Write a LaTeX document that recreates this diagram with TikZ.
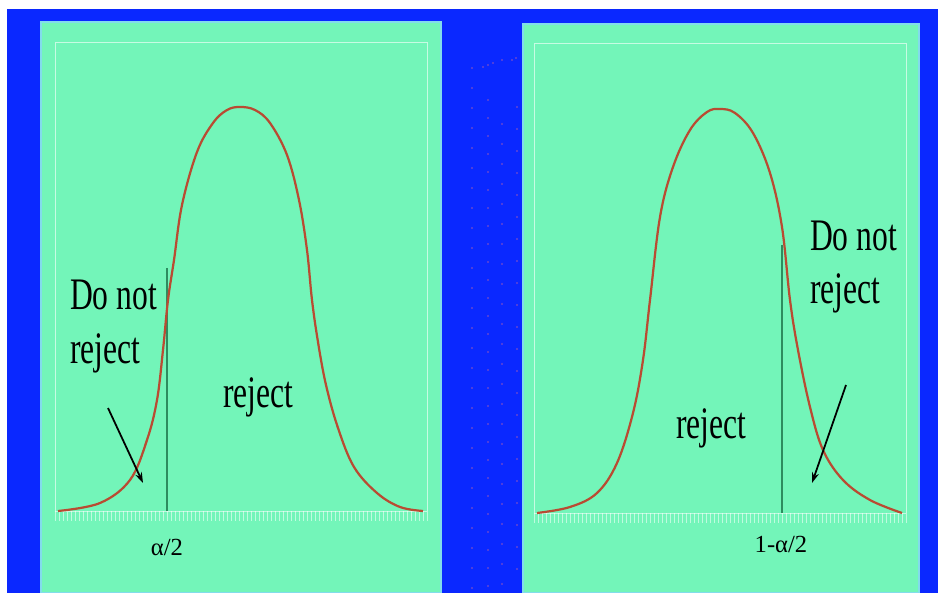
\documentclass[tikz,border=0pt]{standalone}
\usepackage{fontspec}
\setmainfont{Liberation Serif}
\usetikzlibrary{arrows.meta}
\definecolor{slideblue}{RGB}{10,40,255}
\definecolor{panelgreen}{RGB}{115,245,185}
\definecolor{paneledge}{RGB}{130,220,235}
\definecolor{curvered}{RGB}{185,75,50}
\definecolor{cutgreen}{RGB}{45,140,95}
\definecolor{dotpurple}{RGB}{100,70,210}

\begin{document}
\begin{tikzpicture}[
    x=0.03cm, y=-0.03cm,
    >=Stealth,
    panel/.style={fill=panelgreen, draw=paneledge, line width=1pt},
    frame/.style={draw=white, draw opacity=0.6, line width=0.6pt},
    tick/.style={draw=white, draw opacity=0.55, line width=0.7pt},
    bell/.style={draw=curvered, line width=1.9pt},
    cut/.style={draw=cutgreen, line width=1.1pt},
    big/.style={font=\fontsize{38.5}{46}\selectfont, xscale=0.7, inner sep=0pt, anchor=base west, align=left},
    crit/.style={font=\fontsize{21}{24}\selectfont, inner sep=0pt, anchor=base},
    arr/.style={-{Stealth[length=9pt, width=6pt]}, line width=1.5pt},
    spot/.style={fill=dotpurple},
]
% ============================================================
% Background: white strip, blue slide, two green panels
% ============================================================
\useasboundingbox[fill=white] (0,0) rectangle (938,593);
\fill[slideblue] (7,9) rectangle (938,593);
\draw[panel] (41,22) rectangle (441,593);
\draw[panel] (523,24) rectangle (919,593);
% faint dots between the panels
\foreach \y in {68,88,...,588} \fill[spot] (472,\y) circle (1.2);
\foreach \y in {100,118,...,586} \fill[spot] (488,\y) circle (1.2);
\foreach \y in {124,144,...,584} \fill[spot] (502,\y) circle (1.2);
\foreach \y in {107,129,...,585} \fill[spot] (517,\y) circle (1.2);
\foreach \x/\y in {483/67, 488/65, 493/63, 502/60, 512/60, 516/58} \fill[spot] (\x,\y) circle (1.2);
% ============================================================
% LEFT panel: alpha/2
% ============================================================
\draw[frame] (55,511) -- (55,42) -- (427,42) -- (427,511);
\draw[tick] (55,511) -- (427,511);
\foreach \t in {55,59,...,427} \draw[tick] (\t,511) -- (\t,521);
% cut-off line
\coordinate (lcut-top) at (167,268);
\coordinate (lcut-bot) at (167,511);
\draw[cut] (lcut-top) -- (lcut-bot);
% density curve
\draw[bell] plot[smooth, tension=0.6] coordinates {
    (58,511) (100,503) (130,480) (147,440) (157,400) (163,350) (168,300)
    (174,260) (182,205) (197,152) (213,123) (227,110) (240,107) (255,110)
    (270,123) (287,155) (299,200) (307,250) (312,300) (318,342) (326,385)
    (338,428) (354,467) (377,493) (400,507) (423,511)};
% labels
\node[big] (l-keep) at (70,363) {Do not\\reject};
\node[big] (l-rej) at (223,407) {reject};
\node[crit] (l-crit) at (167,555) {α/2};
% arrow into the tail
\coordinate (la-start) at (108,408);
\coordinate (la-end) at (143,483);
\draw[arr] (la-start) -- (la-end);
% ============================================================
% RIGHT panel: 1-alpha/2
% ============================================================
\draw[frame] (534,513) -- (534,43) -- (906,43) -- (906,513);
\draw[tick] (534,513) -- (906,513);
\foreach \t in {534,538,...,906} \draw[tick] (\t,513) -- (\t,523);
% cut-off line
\coordinate (rcut-top) at (782,245);
\coordinate (rcut-bot) at (782,513);
\draw[cut] (rcut-top) -- (rcut-bot);
% density curve
\draw[bell] plot[smooth, tension=0.6] coordinates {
    (537,513) (570,507) (597,493) (617,463) (633,413) (643,360) (650,300)
    (660,217) (673,167) (690,130) (707,112) (720,109) (735,113) (753,133)
    (770,173) (782,227) (790,300) (798,350) (810,407) (823,450) (843,480)
    (870,500) (902,513)};
% labels
\node[big] (r-keep) at (810,304) {Do not\\reject};
\node[big] (r-rej) at (676,438) {reject};
\node[crit] (r-crit) at (781,552) {1-α/2};
% arrow into the tail
\coordinate (ra-start) at (846,385);
\coordinate (ra-end) at (812,483);
\draw[arr] (ra-start) -- (ra-end);
\end{tikzpicture}
\end{document}
